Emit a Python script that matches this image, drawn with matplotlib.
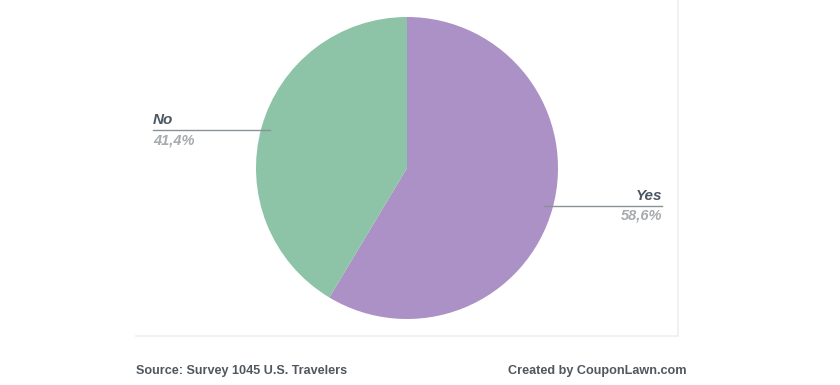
import numpy as np
import matplotlib
matplotlib.use("Agg")
import matplotlib.pyplot as plt

labels = ["Yes", "No"]
shares = [58.6, 41.4]
pct_text = ["58,6%", "41,4%"]
colors = ["#ab91c5", "#8dc3a7"]

plt.rcParams['font.family'] = ['Liberation Sans', 'DejaVu Sans']

fig = plt.figure(figsize=(8.4, 3.85), dpi=100)
ax = fig.add_axes([0, 0, 1, 1])

cx, cy, r = 407, 217, 151
wedges, _ = ax.pie(shares, colors=colors, startangle=90, counterclock=False,
                   center=(cx, cy), radius=r, wedgeprops=dict(linewidth=0))
ax.set_xlim(0, 840)
ax.set_ylim(0, 385)
ax.set_aspect('equal')
ax.axis('off')

# faint frame
ax.plot([678, 678], [385, 49], color="#efefef", lw=1.2)
ax.plot([136, 678], [49, 49], color="#efefef", lw=1.2)

for w, lab, pct in zip(wedges, labels, pct_text):
    mid = np.deg2rad((w.theta1 + w.theta2) / 2)
    px = cx + 0.94 * r * np.cos(mid)
    py = cy + 0.94 * r * np.sin(mid)
    if np.cos(mid) >= 0:
        ex, ha = 662, 'right'
    else:
        ex, ha = 153, 'left'
    ax.plot([px, ex], [py, py], color="#8a9296", lw=1)
    ax.text(ex, py + 3, lab, ha=ha, va='bottom', fontsize=11,
            fontweight='bold', fontstyle='italic', color="#4b5763")
    ax.text(ex, py - 3, pct, ha=ha, va='top', fontsize=10.5,
            fontweight='bold', fontstyle='italic', color="#a7abae")

ax.text(136, 14, "Source: Survey 1045 U.S. Travelers", ha='left', va='center',
        fontsize=9.1, fontweight='bold', color="#50575e")
ax.text(686, 14, "Created by CouponLawn.com", ha='right', va='center',
        fontsize=9.1, fontweight='bold', color="#50575e")

fig.savefig("out.png", dpi=100)
